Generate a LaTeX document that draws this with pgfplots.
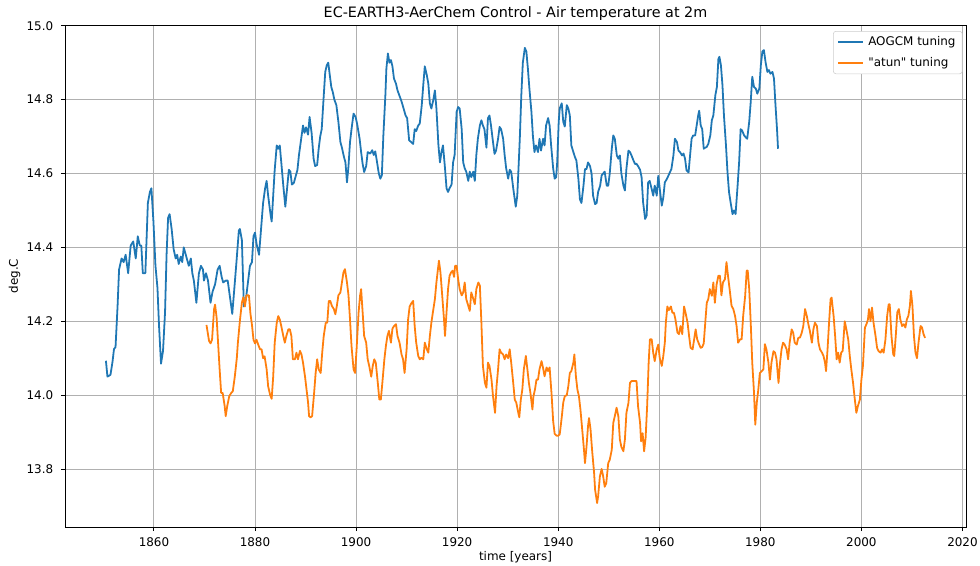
\documentclass[border=0pt]{standalone}
\usepackage{fontspec}
\setmainfont{DejaVu Sans}[Ligatures=TeXOff]
\usepackage{pgfplots}
\pgfplotsset{compat=1.18}
\definecolor{mblue}{HTML}{1F77B4}
\definecolor{morange}{HTML}{FF7F0E}
\definecolor{mgrid}{HTML}{B0B0B0}
\definecolor{mleg}{HTML}{CCCCCC}
\begin{document}
\begin{tikzpicture}
\path[use as bounding box] (-48.75pt,-29.25pt) rectangle (686.25pt,395.25pt);
\begin{axis}[
  at={(0,0)}, anchor=south west,
  scale only axis, width=675.75pt, height=376.5pt,
  xmin=1842.4, xmax=2020.7, ymin=13.643, ymax=15.002,
  xtick={1860,1880,1900,1920,1940,1960,1980,2000,2020},
  ytick={13.8,14.0,14.2,14.4,14.6,14.8,15.0},
  xticklabel style={/pgf/number format/1000 sep={}, yshift=-1.2pt},
  yticklabel style={/pgf/number format/fixed, /pgf/number format/fixed zerofill, /pgf/number format/precision=1, xshift=-2.2pt},
  /pgf/number format/assume math mode=true,
  tick align=outside, tick pos=left,
  major tick length=3.1pt,
  every tick/.style={black, line width=0.72pt},
  axis line style={line width=0.72pt},
  grid=major, grid style={mgrid, line width=0.72pt},
  ticklabel style={font=\fontsize{8.95}{10.5}\selectfont},
  title={EC-EARTH3-AerChem Control - Air temperature at 2m},
  every axis title/.style={font=\fontsize{10.76}{13}\selectfont, at={(axis description cs:0.5,1.0153)}, anchor=base},
  xlabel={time [years]},
  every axis x label/.style={font=\fontsize{8.95}{10.5}\selectfont, at={(axis description cs:0.5,-0.0671)}, anchor=base},
  ylabel={deg.C},
  every axis y label/.style={font=\fontsize{8.95}{10.5}\selectfont, at={(axis description cs:-0.056,0.5)}, anchor=center, rotate=90},
  legend style={at={(axis description cs:0.9961,0.9880)}, anchor=north east,
    draw=mleg, rounded corners=2pt, font=\fontsize{8.95}{10.5}\selectfont,
    inner xsep=3pt, inner ysep=2.2pt, row sep=2.9pt, column sep=1pt},
  legend cell align=left,
  legend image code/.code={\draw[#1, line width=1.45pt, line cap=butt] (0pt,0pt) -- (18.75pt,0pt);},
]
\addplot[mblue, line width=1.34pt, line join=round] coordinates {
(1850.5,14.093)(1850.8,14.05)(1851.4,14.055)(1851.8,14.09)(1852.1,14.125)(1852.4,14.13)(1852.8,14.24)(1853.1,14.34)(1853.6,14.37)(1854.0,14.36)(1854.4,14.38)(1854.9,14.33)(1855.4,14.405)(1855.9,14.416)(1856.4,14.37)(1856.8,14.43)(1857.2,14.405)(1857.5,14.405)(1857.8,14.33)(1858.3,14.33)(1858.8,14.52)(1859.2,14.55)(1859.5,14.56)(1859.9,14.47)(1860.3,14.35)(1860.7,14.29)(1861.0,14.19)(1861.4,14.085)(1861.8,14.12)(1862.2,14.225)(1862.5,14.38)(1862.8,14.48)(1863.1,14.49)(1863.5,14.45)(1863.9,14.395)(1864.3,14.37)(1864.6,14.38)(1864.9,14.355)(1865.3,14.375)(1865.6,14.36)(1865.9,14.40)(1866.3,14.38)(1866.6,14.365)(1866.9,14.35)(1867.3,14.37)(1867.6,14.33)(1867.9,14.31)(1868.4,14.25)(1868.9,14.33)(1869.3,14.35)(1869.7,14.34)(1869.9,14.31)(1870.3,14.33)(1870.7,14.31)(1871.2,14.25)(1871.6,14.28)(1872.1,14.30)(1872.6,14.34)(1873.0,14.35)(1873.4,14.32)(1873.7,14.305)(1874.2,14.31)(1874.6,14.31)(1875.0,14.27)(1875.5,14.22)(1875.8,14.27)(1876.3,14.355)(1876.8,14.445)(1877.0,14.45)(1877.4,14.42)(1877.8,14.24)(1878.2,14.26)(1878.6,14.305)(1879.0,14.35)(1879.4,14.36)(1879.7,14.43)(1880.0,14.44)(1880.3,14.41)(1880.8,14.38)(1881.2,14.45)(1881.6,14.52)(1882.0,14.56)(1882.3,14.58)(1882.6,14.54)(1883.1,14.486)(1883.3,14.47)(1883.6,14.54)(1883.9,14.61)(1884.3,14.676)(1884.6,14.667)(1884.9,14.676)(1885.2,14.63)(1885.6,14.567)(1886.0,14.51)(1886.4,14.567)(1886.7,14.61)(1887.0,14.605)(1887.3,14.57)(1887.7,14.575)(1888.0,14.59)(1888.4,14.61)(1888.7,14.65)(1889.2,14.70)(1889.5,14.73)(1889.8,14.71)(1890.1,14.725)(1890.5,14.705)(1890.8,14.753)(1891.2,14.71)(1891.6,14.64)(1891.9,14.62)(1892.3,14.623)(1892.6,14.667)(1892.9,14.70)(1893.2,14.72)(1893.6,14.81)(1893.9,14.875)(1894.2,14.893)(1894.5,14.90)(1894.8,14.866)(1895.1,14.834)(1895.4,14.82)(1895.7,14.80)(1896.1,14.785)(1896.5,14.74)(1896.9,14.685)(1897.2,14.67)(1897.6,14.645)(1897.9,14.63)(1898.2,14.576)(1898.5,14.62)(1898.8,14.685)(1899.1,14.72)(1899.5,14.762)(1899.9,14.753)(1900.2,14.735)(1900.7,14.694)(1901.0,14.658)(1901.3,14.626)(1901.6,14.604)(1902.0,14.62)(1902.3,14.658)(1902.8,14.654)(1903.2,14.663)(1903.5,14.65)(1903.8,14.66)(1904.1,14.635)(1904.5,14.60)(1904.8,14.586)(1905.1,14.595)(1905.4,14.703)(1905.8,14.812)(1906.0,14.884)(1906.3,14.925)(1906.6,14.90)(1906.9,14.907)(1907.2,14.89)(1907.5,14.857)(1907.9,14.843)(1908.2,14.825)(1908.6,14.81)(1909.0,14.795)(1909.4,14.776)(1909.8,14.757)(1910.1,14.75)(1910.5,14.69)(1910.9,14.685)(1911.3,14.68)(1911.6,14.72)(1911.9,14.715)(1912.3,14.73)(1912.6,14.735)(1913.0,14.785)(1913.3,14.84)(1913.6,14.89)(1914.0,14.866)(1914.3,14.843)(1914.6,14.79)(1914.9,14.776)(1915.3,14.80)(1915.6,14.825)(1915.9,14.776)(1916.3,14.676)(1916.6,14.63)(1916.9,14.658)(1917.2,14.676)(1917.6,14.614)(1917.9,14.56)(1918.2,14.55)(1918.5,14.56)(1918.9,14.57)(1919.2,14.63)(1919.5,14.65)(1919.9,14.767)(1920.2,14.78)(1920.5,14.776)(1920.9,14.72)(1921.2,14.63)(1921.5,14.614)(1921.8,14.605)(1922.2,14.58)(1922.5,14.605)(1922.8,14.59)(1923.2,14.605)(1923.5,14.58)(1923.8,14.65)(1924.1,14.694)(1924.5,14.73)(1924.8,14.744)(1925.1,14.73)(1925.4,14.72)(1925.8,14.67)(1926.1,14.75)(1926.4,14.757)(1926.7,14.73)(1927.1,14.685)(1927.4,14.653)(1927.7,14.662)(1928.1,14.694)(1928.4,14.726)(1928.7,14.72)(1929.1,14.694)(1929.4,14.65)(1929.7,14.614)(1930.1,14.586)(1930.4,14.61)(1930.7,14.605)(1931.1,14.56)(1931.4,14.53)(1931.6,14.51)(1931.9,14.54)(1932.1,14.60)(1932.4,14.694)(1932.7,14.812)(1933.0,14.90)(1933.4,14.94)(1933.7,14.93)(1934.0,14.884)(1934.3,14.83)(1934.7,14.767)(1935.0,14.70)(1935.3,14.658)(1935.6,14.676)(1936.0,14.658)(1936.3,14.694)(1936.6,14.662)(1937.0,14.694)(1937.3,14.676)(1937.6,14.73)(1938.0,14.75)(1938.3,14.73)(1938.6,14.676)(1939.0,14.614)(1939.3,14.586)(1939.6,14.59)(1939.8,14.63)(1940.1,14.74)(1940.3,14.776)(1940.7,14.79)(1941.0,14.74)(1941.3,14.727)(1941.7,14.785)(1942.0,14.776)(1942.3,14.757)(1942.6,14.676)(1943.0,14.658)(1943.3,14.645)(1943.6,14.635)(1944.0,14.585)(1944.3,14.53)(1944.6,14.52)(1945.0,14.567)(1945.3,14.612)(1945.6,14.612)(1945.9,14.63)(1946.3,14.62)(1946.6,14.60)(1946.9,14.54)(1947.3,14.517)(1947.6,14.52)(1947.9,14.55)(1948.3,14.567)(1948.6,14.595)(1948.9,14.60)(1949.2,14.605)(1949.6,14.567)(1949.9,14.567)(1950.2,14.60)(1950.6,14.667)(1950.9,14.703)(1951.2,14.694)(1951.6,14.649)(1951.9,14.64)(1952.2,14.649)(1952.5,14.60)(1952.9,14.567)(1953.2,14.554)(1953.5,14.613)(1953.9,14.662)(1954.2,14.658)(1954.5,14.649)(1954.9,14.635)(1955.2,14.626)(1955.5,14.626)(1955.8,14.62)(1956.2,14.61)(1956.5,14.59)(1956.8,14.522)(1957.2,14.477)(1957.5,14.486)(1957.8,14.576)(1958.1,14.58)(1958.5,14.558)(1958.8,14.54)(1959.1,14.567)(1959.5,14.54)(1959.8,14.594)(1960.1,14.558)(1960.5,14.513)(1960.8,14.535)(1961.1,14.576)(1961.5,14.585)(1961.8,14.594)(1962.1,14.603)(1962.4,14.612)(1962.8,14.649)(1963.1,14.694)(1963.5,14.685)(1963.8,14.662)(1964.1,14.658)(1964.5,14.649)(1964.8,14.654)(1965.1,14.64)(1965.4,14.608)(1965.8,14.603)(1966.1,14.65)(1966.4,14.694)(1966.7,14.703)(1967.1,14.703)(1967.4,14.73)(1967.7,14.757)(1967.9,14.77)(1968.2,14.73)(1968.5,14.72)(1968.8,14.667)(1969.1,14.67)(1969.4,14.672)(1969.7,14.68)(1970.1,14.703)(1970.4,14.744)(1970.7,14.757)(1971.1,14.812)(1971.4,14.834)(1971.7,14.91)(1971.9,14.916)(1972.2,14.893)(1972.5,14.84)(1972.8,14.757)(1973.2,14.676)(1973.5,14.604)(1973.8,14.55)(1974.1,14.523)(1974.5,14.49)(1974.8,14.50)(1975.1,14.49)(1975.5,14.567)(1975.8,14.63)(1976.1,14.72)(1976.4,14.716)(1976.8,14.703)(1977.1,14.698)(1977.4,14.694)(1977.8,14.74)(1978.1,14.794)(1978.4,14.862)(1978.75,14.834)(1979.1,14.83)(1979.4,14.816)(1979.8,14.83)(1980.1,14.893)(1980.4,14.93)(1980.7,14.934)(1981.05,14.90)(1981.4,14.875)(1981.7,14.88)(1982.0,14.87)(1982.4,14.875)(1982.7,14.857)(1983.0,14.785)(1983.3,14.72)(1983.5,14.667)
};
\addlegendentry{AOGCM tuning}
\addplot[morange, line width=1.34pt, line join=round] coordinates {
(1870.4,14.19)(1870.9,14.147)(1871.2,14.14)(1871.5,14.15)(1871.9,14.233)(1872.1,14.245)(1872.4,14.21)(1872.7,14.14)(1873.0,14.07)(1873.3,14.006)(1873.6,14.006)(1874.0,13.97)(1874.2,13.943)(1874.5,13.97)(1874.9,13.997)(1875.3,14.006)(1875.6,14.01)(1876.0,14.05)(1876.4,14.10)(1876.6,14.14)(1877.0,14.20)(1877.4,14.25)(1877.7,14.265)(1878.0,14.24)(1878.3,14.27)(1878.8,14.27)(1879.1,14.22)(1879.4,14.19)(1879.7,14.15)(1880.0,14.14)(1880.3,14.15)(1880.6,14.138)(1881.0,14.124)(1881.3,14.124)(1881.6,14.10)(1881.9,14.105)(1882.3,14.07)(1882.6,14.024)(1883.0,14.0)(1883.3,13.99)(1883.6,14.05)(1883.9,14.142)(1884.3,14.196)(1884.6,14.214)(1884.9,14.205)(1885.2,14.187)(1885.6,14.16)(1885.9,14.142)(1886.2,14.16)(1886.6,14.178)(1886.9,14.178)(1887.2,14.16)(1887.5,14.097)(1887.9,14.097)(1888.2,14.115)(1888.5,14.097)(1888.9,14.12)(1889.2,14.11)(1889.5,14.088)(1889.9,14.05)(1890.2,14.015)(1890.5,13.98)(1890.7,13.943)(1891.0,13.94)(1891.3,13.943)(1891.7,14.006)(1892.0,14.06)(1892.3,14.097)(1892.6,14.07)(1893.0,14.06)(1893.3,14.115)(1893.6,14.16)(1894.0,14.196)(1894.3,14.196)(1894.6,14.255)(1894.9,14.255)(1895.2,14.242)(1895.6,14.233)(1895.9,14.219)(1896.2,14.242)(1896.5,14.27)(1896.9,14.278)(1897.2,14.305)(1897.5,14.332)(1897.8,14.341)(1898.2,14.305)(1898.5,14.27)(1898.8,14.205)(1899.1,14.133)(1899.5,14.07)(1899.8,14.06)(1900.1,14.124)(1900.5,14.224)(1900.8,14.27)(1901.0,14.287)(1901.3,14.224)(1901.6,14.16)(1902.0,14.142)(1902.3,14.097)(1902.6,14.079)(1903.0,14.05)(1903.3,14.079)(1903.6,14.097)(1903.9,14.088)(1904.3,14.033)(1904.6,13.988)(1904.9,13.988)(1905.2,14.033)(1905.6,14.097)(1905.9,14.133)(1906.2,14.16)(1906.5,14.174)(1906.9,14.142)(1907.2,14.18)(1907.5,14.187)(1907.9,14.192)(1908.2,14.16)(1908.6,14.142)(1909.0,14.11)(1909.3,14.097)(1909.6,14.06)(1910.0,14.124)(1910.3,14.205)(1910.6,14.24)(1911.0,14.25)(1911.3,14.255)(1911.6,14.187)(1911.9,14.142)(1912.3,14.106)(1912.6,14.097)(1912.9,14.101)(1913.3,14.097)(1913.6,14.142)(1914.0,14.124)(1914.3,14.115)(1914.6,14.16)(1914.9,14.196)(1915.2,14.224)(1915.6,14.26)(1915.9,14.305)(1916.2,14.341)(1916.4,14.364)(1916.7,14.332)(1917.0,14.278)(1917.4,14.205)(1917.6,14.16)(1917.9,14.224)(1918.2,14.287)(1918.5,14.323)(1918.8,14.332)(1919.1,14.337)(1919.4,14.32)(1919.6,14.35)(1919.9,14.35)(1920.2,14.314)(1920.5,14.287)(1920.9,14.27)(1921.2,14.278)(1921.5,14.305)(1921.8,14.26)(1922.2,14.242)(1922.5,14.228)(1922.8,14.278)(1923.2,14.26)(1923.5,14.246)(1923.8,14.287)(1924.2,14.305)(1924.5,14.296)(1924.8,14.196)(1925.1,14.079)(1925.5,14.033)(1925.8,14.02)(1926.1,14.088)(1926.4,14.079)(1926.8,14.042)(1927.1,13.997)(1927.5,13.952)(1927.8,14.024)(1928.1,14.07)(1928.4,14.124)(1928.7,14.115)(1929.1,14.11)(1929.4,14.097)(1929.7,14.11)(1930.1,14.10)(1930.4,14.124)(1930.7,14.088)(1931.1,14.033)(1931.4,13.988)(1931.7,13.98)(1932.1,13.952)(1932.3,13.94)(1932.6,13.988)(1932.9,14.015)(1933.2,14.07)(1933.6,14.106)(1933.9,14.07)(1934.2,14.033)(1934.5,14.006)(1934.9,13.961)(1935.1,13.997)(1935.4,14.015)(1935.7,14.042)(1936.0,14.042)(1936.3,14.07)(1936.7,14.092)(1937.0,14.074)(1937.3,14.051)(1937.7,14.075)(1938.0,14.065)(1938.3,14.075)(1938.7,14.0)(1939.0,13.93)(1939.3,13.895)(1939.7,13.89)(1940.0,13.89)(1940.3,13.894)(1940.7,13.94)(1941.0,13.98)(1941.3,13.997)(1941.7,14.0)(1942.0,14.024)(1942.3,14.06)(1942.6,14.065)(1943.0,14.088)(1943.2,14.11)(1943.5,14.051)(1943.8,14.015)(1944.1,13.997)(1944.4,13.961)(1944.75,13.907)(1945.1,13.852)(1945.3,13.816)(1945.6,13.86)(1945.9,13.916)(1946.1,13.938)(1946.4,13.907)(1946.7,13.852)(1947.1,13.79)(1947.3,13.744)(1947.7,13.708)(1947.9,13.726)(1948.25,13.78)(1948.6,13.80)(1948.9,13.78)(1949.2,13.752)(1949.5,13.761)(1949.9,13.816)(1950.2,13.825)(1950.6,13.852)(1950.9,13.925)(1951.2,13.943)(1951.55,13.966)(1951.9,13.943)(1952.2,13.88)(1952.5,13.86)(1952.9,13.848)(1953.2,13.88)(1953.5,13.952)(1953.9,13.979)(1954.2,14.033)(1954.5,14.038)(1954.9,14.038)(1955.2,14.038)(1955.5,14.038)(1955.8,13.97)(1956.2,13.925)(1956.4,13.875)(1956.7,13.897)(1957.0,13.848)(1957.3,13.885)(1957.6,13.97)(1957.9,14.088)(1958.15,14.151)(1958.5,14.151)(1958.8,14.115)(1959.1,14.092)(1959.5,14.124)(1959.8,14.137)(1960.1,14.10)(1960.5,14.079)(1960.8,14.106)(1961.1,14.142)(1961.3,14.196)(1961.6,14.24)(1961.9,14.23)(1962.3,14.24)(1962.6,14.223)(1962.9,14.223)(1963.2,14.205)(1963.6,14.169)(1963.9,14.165)(1964.2,14.187)(1964.55,14.165)(1964.9,14.24)(1965.2,14.223)(1965.6,14.196)(1965.9,14.16)(1966.2,14.128)(1966.6,14.124)(1966.9,14.151)(1967.2,14.178)(1967.5,14.151)(1967.9,14.137)(1968.2,14.128)(1968.5,14.13)(1968.8,14.14)(1969.1,14.196)(1969.4,14.25)(1969.7,14.26)(1970.0,14.287)(1970.4,14.269)(1970.7,14.305)(1971.0,14.25)(1971.35,14.30)(1971.7,14.323)(1972.0,14.323)(1972.3,14.27)(1972.6,14.305)(1973.0,14.314)(1973.3,14.36)(1973.6,14.323)(1974.0,14.278)(1974.3,14.242)(1974.65,14.233)(1975.0,14.214)(1975.3,14.187)(1975.6,14.142)(1976.0,14.151)(1976.3,14.151)(1976.6,14.214)(1977.0,14.269)(1977.3,14.337)(1977.5,14.337)(1977.8,14.287)(1978.1,14.196)(1978.4,14.088)(1978.75,14.006)(1979.0,13.92)(1979.3,13.98)(1979.6,14.015)(1979.9,14.06)(1980.3,14.065)(1980.6,14.07)(1980.9,14.138)(1981.2,14.124)(1981.6,14.088)(1981.9,14.042)(1982.2,14.088)(1982.6,14.119)(1982.9,14.115)(1983.2,14.097)(1983.6,14.033)(1983.9,14.088)(1984.2,14.124)(1984.5,14.142)(1984.8,14.137)(1985.2,14.124)(1985.5,14.097)(1985.8,14.142)(1986.2,14.178)(1986.5,14.169)(1986.8,14.142)(1987.2,14.137)(1987.5,14.155)(1987.85,14.156)(1988.2,14.169)(1988.5,14.187)(1988.85,14.233)(1989.2,14.214)(1989.5,14.192)(1989.8,14.174)(1990.2,14.142)(1990.5,14.178)(1990.8,14.196)(1991.2,14.187)(1991.5,14.142)(1991.8,14.124)(1992.2,14.115)(1992.5,14.106)(1992.8,14.088)(1993.0,14.065)(1993.3,14.124)(1993.6,14.196)(1993.9,14.26)(1994.1,14.264)(1994.5,14.214)(1994.8,14.16)(1995.1,14.097)(1995.4,14.115)(1995.7,14.088)(1996.0,14.115)(1996.3,14.12)(1996.7,14.20)(1997.0,14.18)(1997.4,14.15)(1997.7,14.106)(1998.0,14.07)(1998.35,14.033)(1998.7,13.988)(1999.0,13.952)(1999.3,13.97)(1999.7,13.988)(2000.0,14.042)(2000.3,14.079)(2000.7,14.183)(2001.0,14.192)(2001.3,14.205)(2001.5,14.233)(2001.8,14.2)(2002.1,14.237)(2002.4,14.196)(2002.8,14.16)(2003.1,14.128)(2003.4,14.119)(2003.8,14.115)(2004.1,14.124)(2004.4,14.115)(2004.75,14.15)(2005.1,14.215)(2005.4,14.246)(2005.6,14.246)(2005.95,14.16)(2006.3,14.11)(2006.5,14.106)(2006.8,14.16)(2007.1,14.224)(2007.4,14.233)(2007.7,14.205)(2008.05,14.187)(2008.4,14.192)(2008.7,14.183)(2009.0,14.205)(2009.3,14.215)(2009.6,14.242)(2009.8,14.282)(2010.1,14.242)(2010.4,14.16)(2010.7,14.115)(2011.0,14.10)(2011.3,14.142)(2011.7,14.187)(2012.0,14.183)(2012.3,14.165)(2012.6,14.155)
};
\addlegendentry{"atun" tuning}
\end{axis}
\end{tikzpicture}
\end{document}
